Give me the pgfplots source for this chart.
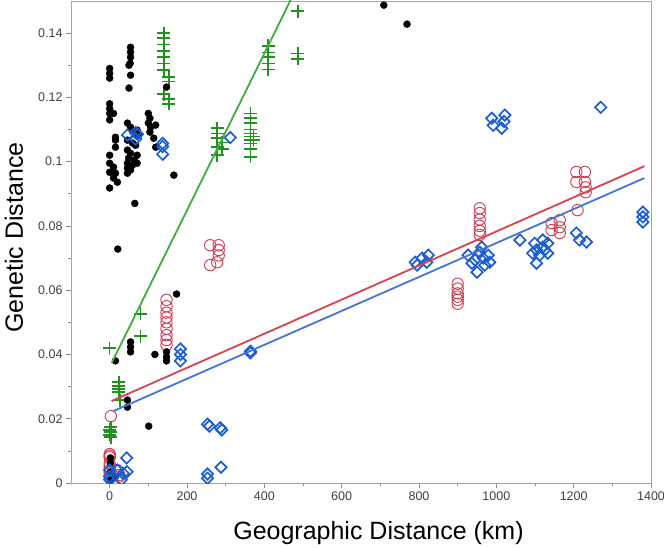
\documentclass[border=0pt]{standalone}
\usepackage{pgfplots}
\pgfplotsset{compat=1.18}
\usepackage{fontspec}
\setmainfont{Liberation Sans}
\definecolor{ptgreen}{HTML}{1E941E}
\definecolor{lngreen}{HTML}{3DAE3D}
\definecolor{ptred}{HTML}{D0384C}
\definecolor{lnred}{HTML}{D8424F}
\definecolor{ptblue}{HTML}{1B5ED0}
\definecolor{lnblue}{HTML}{4673D8}
\begin{document}
\begin{tikzpicture}
\begin{axis}[
  scale only axis, width=580bp, height=482bp,
  xmin=-100, xmax=1400, ymin=0, ymax=0.15,
  xtick={0,200,400,600,800,1000,1200,1400},
  ytick={0,0.02,0.04,0.06,0.08,0.1,0.12,0.14},
  minor x tick num=1, minor y tick num=1,
  tick align=outside, xtick pos=bottom, ytick pos=left,
  major tick length=5bp, minor tick length=3bp,
  tick style={black!45, line width=0.6bp},
  axis line style={black!35, line width=0.8bp},
  scaled y ticks=false, scaled x ticks=false,
  yticklabel style={/pgf/number format/fixed, /pgf/number format/precision=2},
  xticklabel style={/pgf/number format/1000 sep={}},
  /pgf/number format/assume math mode=true,
  ticklabel style={font=\fontsize{12.5bp}{14bp}\selectfont, text=black!75},
  xlabel={Geographic Distance (km)},
  ylabel={Genetic Distance},
  xlabel style={at={([xshift=17.5bp,yshift=-56bp]rel axis cs:0.5,0)}, anchor=base, font=\fontsize{25bp}{28bp}\selectfont},
  ylabel style={at={([xshift=-48bp,yshift=4.5bp]rel axis cs:0,0.5)}, anchor=base, font=\fontsize{25bp}{28bp}\selectfont},
  clip marker paths=true,
]
% green
\addplot[only marks, mark=+, mark size=6.5bp, ptgreen, line width=1.6bp] coordinates {
 (140,0.140) (140,0.1384) (140,0.1365) (140,0.1344) (140,0.1325) (140,0.1306) (140,0.1285)
 (153,0.1264) (153,0.125) (140,0.121) (153,0.1195) (153,0.118)
 (278,0.1104) (278,0.1088) (278,0.1073) (278,0.1045) (278,0.102) (291,0.106) (291,0.104)
 (364,0.115) (364,0.1135) (364,0.112) (364,0.110) (364,0.1088) (364,0.1078) (364,0.1067)
 (364,0.1056) (364,0.104) (364,0.1015) (372,0.1078) (372,0.1067)
 (410,0.136) (410,0.134) (410,0.1325) (410,0.1306) (410,0.1287)
 (487,0.1468) (487,0.1337) (487,0.132)
 (0,0.042) (80,0.0526) (80,0.0457)
 (24,0.0314) (24,0.0302) (24,0.0292) (24,0.0283) (26,0.0258)
 (3,0.0174) (3,0.0159) (3,0.0143) (0,0.0165) (0,0.015)
};
% red
\addplot[only marks, mark=o, mark size=5.7bp, ptred, line width=0.9bp] coordinates {
 (260,0.074) (282,0.074) (282,0.0725) (282,0.0708) (260,0.0678) (278,0.0687)
 (147,0.057) (147,0.055) (147,0.053) (147,0.0515) (147,0.050) (147,0.048) (147,0.046) (147,0.0445) (147,0.043)
 (3,0.0208) (0,0.009) (0,0.0085) (0,0.008) (0,0.006) (0,0.005) (0,0.004) (0,0.003) (0,0.002)
 (25,0.0025) (25,0.002) (20,0.004)
 (900,0.062) (900,0.0605) (900,0.059) (900,0.058) (900,0.057) (900,0.0558)
 (957,0.0855) (957,0.084) (957,0.082) (957,0.080) (957,0.0785) (957,0.0772)
 (1143,0.0809) (1164,0.0818) (1164,0.0796) (1164,0.0778) (1143,0.0787)
 (1207,0.0968) (1229,0.0968) (1207,0.0937) (1229,0.0937) (1231,0.092) (1231,0.0905) (1210,0.0849)
};
% black
\addplot[only marks, mark=*, mark size=3.5bp, black] coordinates {
 (0,0.129) (0,0.1275) (0,0.126) (0,0.118) (0,0.1165) (0,0.115) (0,0.113) (10,0.115)
 (15,0.1076) (15,0.1067) (15,0.1045)
 (0,0.102) (0,0.0995) (10,0.0983) (0,0.0967) (15,0.0964) (10,0.0949) (20,0.0936) (0,0.0918)
 (54,0.1356) (54,0.1341) (54,0.1325) (53,0.1306) (50,0.130) (54,0.1269) (50,0.1229)
 (46,0.112) (54,0.1107) (71,0.1098) (65,0.1089) (75,0.1082) (46,0.1067) (59,0.1058) (67,0.1051)
 (46,0.1036) (54,0.1026) (71,0.102) (49,0.1011) (63,0.1005) (46,0.0995) (59,0.0989) (46,0.098)
 (71,0.0995) (54,0.0974) (46,0.0964)
 (100,0.115) (104,0.1135) (100,0.112) (106,0.1107) (119,0.1114) (104,0.1092) (114,0.1073) (119,0.1045)
 (147,0.1232) (166,0.0958) (21,0.0728) (65,0.087)
 (709,0.1487) (769,0.1428)
 (15,0.038) (54,0.0439) (54,0.0423) (54,0.0408) (117,0.040) (147,0.0408) (147,0.0392) (147,0.038)
 (173,0.0588) (46,0.0258) (46,0.0236) (101,0.0177)
 (2,0.0078) (2,0.0062) (2,0.0034) (2,0.001) (15,0.002)
};
% blue
\addplot[only marks, mark=square, mark options={rotate=45}, mark size=4bp, ptblue, line width=1.7bp] coordinates {
 (46,0.1083) (67,0.109) (67,0.107) (72,0.1085) (137,0.1057) (137,0.1047) (137,0.1023) (312,0.1075)
 (988,0.1135) (992,0.1113) (1022,0.1145) (1014,0.1104) (1020,0.1125)
 (1270,0.1169) (1379,0.0843) (1379,0.0812) (1379,0.0828)
 (1207,0.0778) (1215,0.0756) (1233,0.075) (1061,0.0756)
 (1099,0.0746) (1120,0.0756) (1133,0.0746) (1104,0.0725) (1125,0.0725) (1094,0.0715)
 (1112,0.0709) (1133,0.0715) (1104,0.0684) (1120,0.0734)
 (927,0.0709) (937,0.0684) (950,0.0656) (957,0.0718) (966,0.070) (979,0.0709) (983,0.0687)
 (945,0.0694) (970,0.0678) (962,0.0734)
 (790,0.0687) (808,0.0700) (824,0.0709) (795,0.0678) (820,0.0687)
 (183,0.0417) (183,0.040) (183,0.038) (364,0.041) (364,0.0405)
 (253,0.0183) (258,0.0177) (286,0.0172) (290,0.0165)
 (253,0.0028) (253,0.0015) (288,0.0049) (44,0.0078)
 (0,0.004) (0,0.002) (0,0.001) (20,0.004) (35,0.003) (45,0.0035) (30,0.001)
};
% fitted lines
\addplot[lngreen, line width=1.8bp] coordinates {(5,0.0373) (480,0.1532)};
\addplot[lnred, line width=1.8bp] coordinates {(5,0.0255) (1383,0.0986)};
\addplot[lnblue, line width=1.8bp] coordinates {(10,0.0224) (1383,0.0949)};
\coordinate (ll) at (rel axis cs:0,0);
\coordinate (ur) at (rel axis cs:1,1);
\end{axis}
\pgfresetboundingbox
\path ([shift={(-71bp,-65bp)}]ll) rectangle ([shift={(13bp,1bp)}]ur);
\end{tikzpicture}
\end{document}
